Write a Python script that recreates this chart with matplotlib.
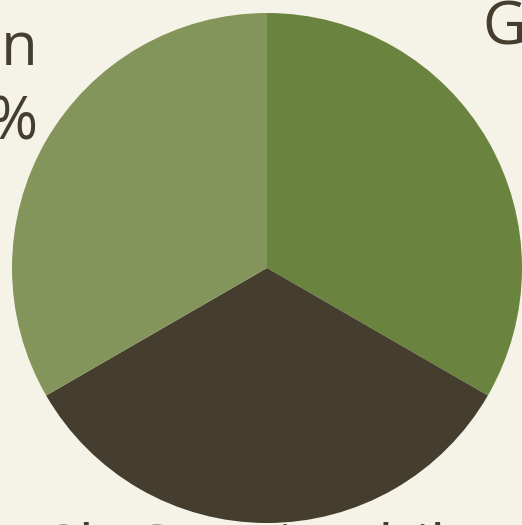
import matplotlib
matplotlib.use("Agg")
import matplotlib.pyplot as plt

categories = ["Grain", "Sh Ganaine bile", "Cotton"]
values = [33.3, 33.3, 33.3]
colors = ["#6a843f", "#453e2f", "#84955c"]
pct_labels = ["33.3%", "33.3%", "33.3%"]

W, H = 522, 525
fig = plt.figure(figsize=(W / 100, H / 100), dpi=100)
bg = "#f5f2e8"
fig.patch.set_facecolor(bg)
ax = fig.add_axes([0, 0, 1, 1])
ax.set_facecolor(bg)

cx, cy, r = 267, H - 268, 255
ax.pie(values, colors=colors, startangle=90, counterclock=False,
       center=(cx, cy), radius=r, wedgeprops=dict(linewidth=0),
       frame=True)
ax.set_xlim(0, W)
ax.set_ylim(0, H)
ax.set_aspect("equal")
ax.axis("off")

tc = "#453e2f"
fp = dict(family=["Open Sans", "DejaVu Sans"], fontsize=43, color=tc)
# right label
ax.text(483, H - 43, f"{categories[0]} {pct_labels[0]}", ha="left", va="baseline", **fp)
# left label
ax.text(38, H - 65, categories[2], ha="right", va="baseline", **fp)
ax.text(38, H - 140, pct_labels[2], ha="right", va="baseline", **fp)
# bottom label
ax.text(46, H - 568, categories[1], ha="left", va="baseline", **fp)

fig.savefig("out.png", dpi=100, facecolor=bg)
